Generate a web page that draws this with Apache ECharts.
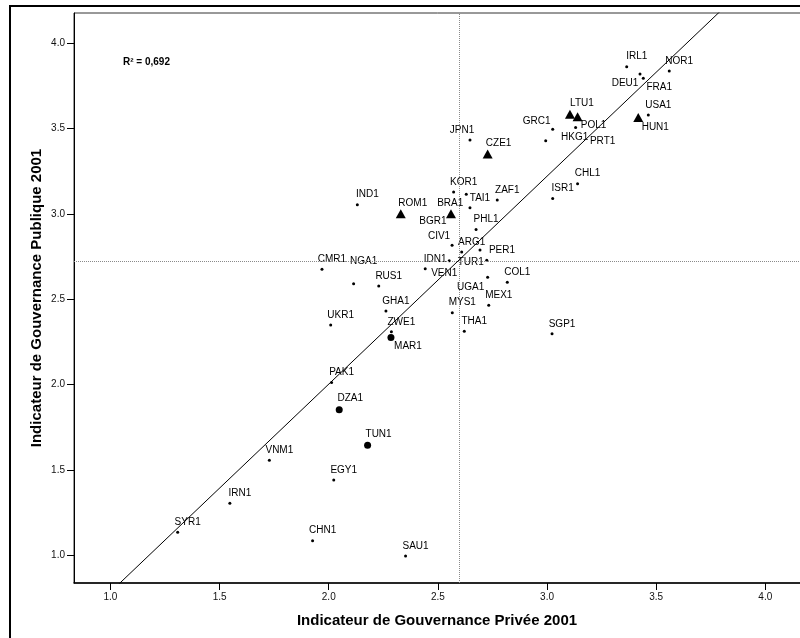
<!DOCTYPE html>
<html>
<head>
<meta charset="utf-8">
<script src="https://cdn.jsdelivr.net/npm/echarts@6/dist/echarts.min.js"></script>
<style>
  html, body { margin: 0; padding: 0; background: #fff; }
  #chart { width: 800px; height: 638px; }
</style>
</head>
<body>
<div id="chart"></div>
<script>
// Country codes (2001 survey)
const codes = ['IRL1','DEU1','FRA1','NOR1','LTU1','POL1','USA1','HUN1','GRC1','PRT1','HKG1','JPN1','CZE1',
  'CHL1','ISR1','KOR1','BRA1','TAI1','ZAF1','PHL1','BGR1','ROM1','IND1','CIV1','ARG1','PER1','IDN1','TUR1',
  'VEN1','CMR1','NGA1','RUS1','COL1','UGA1','MEX1','MYS1','GHA1','UKR1','ZWE1','MAR1','THA1','SGP1','PAK1',
  'DZA1','TUN1','VNM1','EGY1','IRN1','SYR1','CHN1','SAU1'];

// Private governance indicator (x)
const privee = [3.365,3.426,3.441,3.560,3.105,3.140,3.464,3.418,3.026,3.131,2.994,2.647,2.728,
  3.140,3.026,2.572,2.630,2.647,2.772,2.675,2.560,2.330,2.131,2.565,2.609,2.693,2.552,2.724,
  2.442,1.969,2.114,2.229,2.818,2.728,2.733,2.566,2.262,2.009,2.287,2.285,2.621,3.023,2.013,
  2.048,2.178,1.728,2.023,1.547,1.308,1.926,2.352];

// Public governance indicator (y)
const publique = [3.863,3.820,3.795,3.838,3.584,3.570,3.580,3.566,3.496,3.507,3.429,3.433,3.351,
  3.177,3.091,3.128,3.116,3.036,3.081,2.909,3.001,3.001,3.054,2.816,2.776,2.788,2.725,2.728,
  2.679,2.675,2.591,2.577,2.599,2.628,2.464,2.421,2.431,2.348,2.309,2.276,2.312,2.297,2.012,
  1.852,1.643,1.555,1.440,1.303,1.133,1.084,0.994];

// Country groups drawn with distinct markers
const transition = ['LTU1','POL1','HUN1','CZE1','BGR1','ROM1'];
const maghreb = ['MAR1','DZA1','TUN1'];

// Means of both indicators (reference lines) and linear fit
const moyennePrivee = 2.597;
const moyennePublique = 2.724;
const pente = 1.219;
const constante = -0.436;
const r2Text = 'R² = 0,692';

// Axis ticks
const xTicks = [1.0, 1.5, 2.0, 2.5, 3.0, 3.5, 4.0];
const yTicks = [1.0, 1.5, 2.0, 2.5, 3.0, 3.5, 4.0];

// Label placement relative to the marker (pixels); default is upper-right
const labelShift = {
  'DEU1': [-15, 9], 'FRA1': [16, 9], 'POL1': [16, 9], 'HUN1': [17, 10], 'GRC1': [-16, -8],
  'PRT1': [27, 14], 'HKG1': [29, -3], 'JPN1': [-8, -10], 'BRA1': [-16, 9], 'BGR1': [-18, 8],
  'CIV1': [-13, -9], 'PER1': [22, 0], 'IDN1': [-14, -2], 'TUR1': [-16, 2], 'VEN1': [19, 5],
  'NGA1': [10, -22], 'UGA1': [-17, 10], 'MAR1': [17, 9], 'LTU1': [12, -11], 'CZE1': [11, -11],
  'ROM1': [12, -10], 'DZA1': [11, -11], 'TUN1': [11, -11]
};
const defaultShift = [10, -10];

const FONT = '"Liberation Sans", Arial, sans-serif';

function points(filterFn) {
  const out = [];
  codes.forEach((c, i) => {
    if (!filterFn(c)) return;
    out.push({
      name: c,
      value: [privee[i], publique[i]],
      label: { offset: labelShift[c] || defaultShift }
    });
  });
  return out;
}

const pointLabel = {
  show: true,
  position: 'inside',
  formatter: '{b}',
  color: '#000',
  fontSize: 10,
  fontFamily: FONT
};

const markerStyle = { color: '#000', opacity: 1 };

const xMin = 0.833, xMax = 4.18, yMin = 0.836, yMax = 4.178;

const chart = echarts.init(document.getElementById('chart'), null, { renderer: 'canvas' });
chart.setOption({
  animation: false,
  backgroundColor: '#fff',
  grid: {
    left: 74, top: 13, width: 730.6, height: 570,
    show: true, borderColor: '#333', borderWidth: 1,
    containLabel: false, outerBoundsMode: 'none'
  },
  xAxis: {
    type: 'value', min: xMin, max: xMax,
    splitLine: { show: false },
    axisLine: { show: true, onZero: false, lineStyle: { color: '#000', width: 1.5 } },
    axisTick: { show: true, length: 7, lineStyle: { color: '#000' }, customValues: xTicks },
    axisLabel: {
      customValues: xTicks, margin: 9, color: '#111', fontSize: 10, fontFamily: FONT,
      formatter: v => v.toFixed(1)
    }
  },
  yAxis: {
    type: 'value', min: yMin, max: yMax,
    splitLine: { show: false },
    axisLine: { show: true, onZero: false, lineStyle: { color: '#000', width: 1 } },
    axisTick: { show: true, length: 7, lineStyle: { color: '#000' }, customValues: yTicks },
    axisLabel: {
      customValues: yTicks, margin: 9, color: '#111', fontSize: 10, fontFamily: FONT,
      formatter: v => v.toFixed(1)
    }
  },
  graphic: [
    {
      type: 'rect', z: -1, silent: true,
      shape: { x: 10, y: 6, width: 820, height: 700 },
      style: { fill: 'none', stroke: '#000', lineWidth: 2 }
    },
    {
      type: 'text', x: 437, y: 621, silent: true,
      style: { text: 'Indicateur de Gouvernance Privée 2001', font: 'bold 15px ' + FONT,
        fill: '#000', align: 'center', verticalAlign: 'middle' }
    },
    {
      type: 'text', x: 37, y: 298, rotation: Math.PI / 2, silent: true,
      style: { text: 'Indicateur de Gouvernance Publique 2001', font: 'bold 15px ' + FONT,
        fill: '#000', align: 'center', verticalAlign: 'middle' }
    },
    {
      type: 'text', x: 123, y: 62, silent: true,
      style: { text: r2Text, font: 'bold 10px ' + FONT, fill: '#000',
        align: 'left', verticalAlign: 'middle' }
    }
  ],
  series: [
    {
      name: 'Ajustement',
      type: 'line',
      data: [[xMin, constante + pente * xMin], [xMax, constante + pente * xMax]],
      showSymbol: false, symbol: 'none', clip: true, silent: true,
      lineStyle: { color: '#000', width: 1 },
      z: 2
    },
    {
      name: 'Pays',
      type: 'scatter',
      symbol: 'circle', symbolSize: 3,
      itemStyle: markerStyle,
      label: pointLabel,
      data: points(c => transition.indexOf(c) < 0 && maghreb.indexOf(c) < 0),
      markLine: {
        silent: true, symbol: 'none',
        label: { show: false },
        lineStyle: { color: '#8a8a8a', type: 'dotted', width: 1 },
        data: [{ xAxis: moyennePrivee }, { yAxis: moyennePublique }]
      },
      z: 3
    },
    {
      name: 'Transition',
      type: 'scatter',
      symbol: 'triangle', symbolSize: [10, 9],
      itemStyle: markerStyle,
      label: pointLabel,
      data: points(c => transition.indexOf(c) >= 0),
      z: 3
    },
    {
      name: 'Maghreb',
      type: 'scatter',
      symbol: 'circle', symbolSize: 7,
      itemStyle: markerStyle,
      label: pointLabel,
      data: points(c => maghreb.indexOf(c) >= 0),
      z: 3
    }
  ]
});
</script>
</body>
</html>
